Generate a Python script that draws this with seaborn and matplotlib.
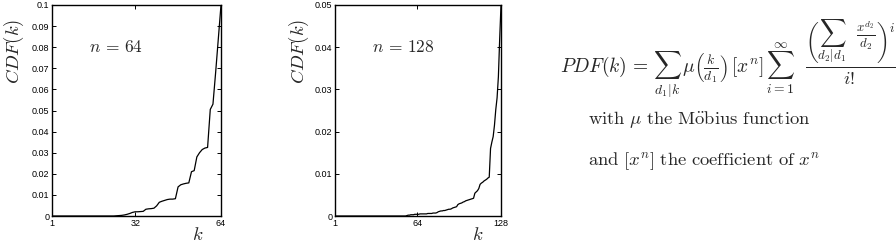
import numpy as np
import pandas as pd
import matplotlib
matplotlib.use("Agg")
import matplotlib.pyplot as plt
import seaborn as sns

# ---- data ----
k64 = list(range(1, 65))
cdf64 = [0.0] * 24 + [
    0.0001, 0.0002, 0.0003, 0.0005, 0.0008, 0.0012, 0.0017, 0.0020,  # 25-32
    0.0020, 0.0021, 0.0022, 0.0032, 0.0034, 0.0035, 0.0037, 0.0048,  # 33-40
    0.0065, 0.0070, 0.0074, 0.0078, 0.0080, 0.0080, 0.0082, 0.0138,  # 41-48
    0.0148, 0.0152, 0.0155, 0.0157, 0.0210, 0.0215, 0.0280, 0.0300,  # 49-56
    0.0315, 0.0322, 0.0325, 0.0505, 0.0530, 0.0680, 0.0840, 0.1000,  # 57-64
]

k128 = list(range(1, 129))
cdf128 = [0.0] * 55 + [
    0.0001, 0.0002, 0.0002, 0.0003, 0.0003, 0.0003, 0.0004, 0.0004,  # 56-63
    0.0004, 0.0004, 0.0005, 0.0005, 0.0005, 0.0005, 0.0005, 0.0005,  # 64-71
    0.0006, 0.0006, 0.0006, 0.0006, 0.0007, 0.0007, 0.0007, 0.0008,  # 72-79
    0.0010, 0.0011, 0.0012, 0.0012, 0.0013, 0.0013, 0.0014, 0.0015,  # 80-87
    0.0016, 0.0016, 0.0017, 0.0019, 0.0020, 0.0021, 0.0022, 0.0027,  # 88-95
    0.0029, 0.0030, 0.0031, 0.0033, 0.0034, 0.0036, 0.0037, 0.0038,  # 96-103
    0.0039, 0.0040, 0.0041, 0.0042, 0.0054, 0.0057, 0.0060, 0.0065,  # 104-111
    0.0075, 0.0078, 0.0080, 0.0083, 0.0085, 0.0087, 0.0090, 0.0092,  # 112-119
    0.0160, 0.0175, 0.0188, 0.0215, 0.0252, 0.0280, 0.0330, 0.0420,  # 120-127
    0.0500,                                                          # 128
]

xticks64 = [1, 32, 64]
yticks64 = [0, 0.01, 0.02, 0.03, 0.04, 0.05, 0.06, 0.07, 0.08, 0.09, 0.1]
ylabels64 = ["0", "0.01", "0.02", "0.03", "0.04", "0.05", "0.06", "0.07", "0.08", "0.09", "0.1"]
xticks128 = [1, 64, 128]
yticks128 = [0, 0.01, 0.02, 0.03, 0.04, 0.05]
ylabels128 = ["0", "0.01", "0.02", "0.03", "0.04", "0.05"]

sns.set_theme(style="ticks")
plt.rcParams["font.family"] = ["Liberation Sans", "DejaVu Sans"]
plt.rcParams["mathtext.fontset"] = "cm"

fig = plt.figure(figsize=(8.96, 2.52), dpi=100)
ax1 = fig.add_axes([52 / 896, 1 - 216 / 252, 169 / 896, 211 / 252])
ax2 = fig.add_axes([335 / 896, 1 - 216 / 252, 166 / 896, 211 / 252])

df64 = pd.DataFrame({"k": k64, "cdf": cdf64})
df128 = pd.DataFrame({"k": k128, "cdf": cdf128})

for ax, df, xt, yt, yl, nlab in [
    (ax1, df64, xticks64, yticks64, ylabels64, r"$n\,=\,64$"),
    (ax2, df128, xticks128, yticks128, ylabels128, r"$n\,=\,128$"),
]:
    sns.lineplot(data=df, x="k", y="cdf", ax=ax, color="black", linewidth=0.9)
    ax.set_xlim(xt[0], xt[-1])
    ax.set_ylim(yt[0], yt[-1])
    ax.set_xticks(xt)
    ax.set_xticklabels([str(v) for v in xt])
    ax.set_yticks(yt)
    ax.set_yticklabels(yl)
    ax.tick_params(direction="in", length=3, width=0.7, top=True, right=True,
                   labelsize=6.5, pad=2, colors="black")
    for s in ax.spines.values():
        s.set_linewidth(1.0)
        s.set_color("black")
    ax.set_xlabel(r"$k$", fontsize=13.5)
    ax.set_ylabel(r"$CDF(k)$", fontsize=13.5)
    ax.xaxis.set_label_coords(0.86, -0.05)
    ax.text(0.22, 0.80, nlab, transform=ax.transAxes, fontsize=12.5,
            ha="left", va="center")

ax1.yaxis.set_label_coords(-0.155, 0.78)
ax2.yaxis.set_label_coords(-0.145, 0.78)

base_y = 1 - 73 / 252
main = (r"$PDF(k)\,=\,\sum_{d_1|k}\,\mu\left(\frac{k}{d_1}\right)\,[x^n]\,"
        r"\sum_{i=1}^{\infty}$")
fig.text(560 / 896, base_y, main, fontsize=14, ha="left", va="baseline")
frac = r"$\frac{\left(\sum_{d_2|d_1}\ \ \frac{x^{d_2}}{d_2}\right)^i}{i!}$"
fig.text(805 / 896, base_y, frac, fontsize=19, ha="left", va="baseline")
fig.text(588 / 896, 1 - 124 / 252,
         r"$\mathrm{with}\ \mu\ \mathrm{the\ M\ddot{o}bius\ function}$",
         fontsize=13.4, ha="left", va="baseline")
fig.text(588 / 896, 1 - 165 / 252,
         r"$\mathrm{and}\ [x^n]\ \mathrm{the\ coefficient\ of}\ x^n$",
         fontsize=13.4, ha="left", va="baseline")

fig.savefig("out.png", dpi=100)
